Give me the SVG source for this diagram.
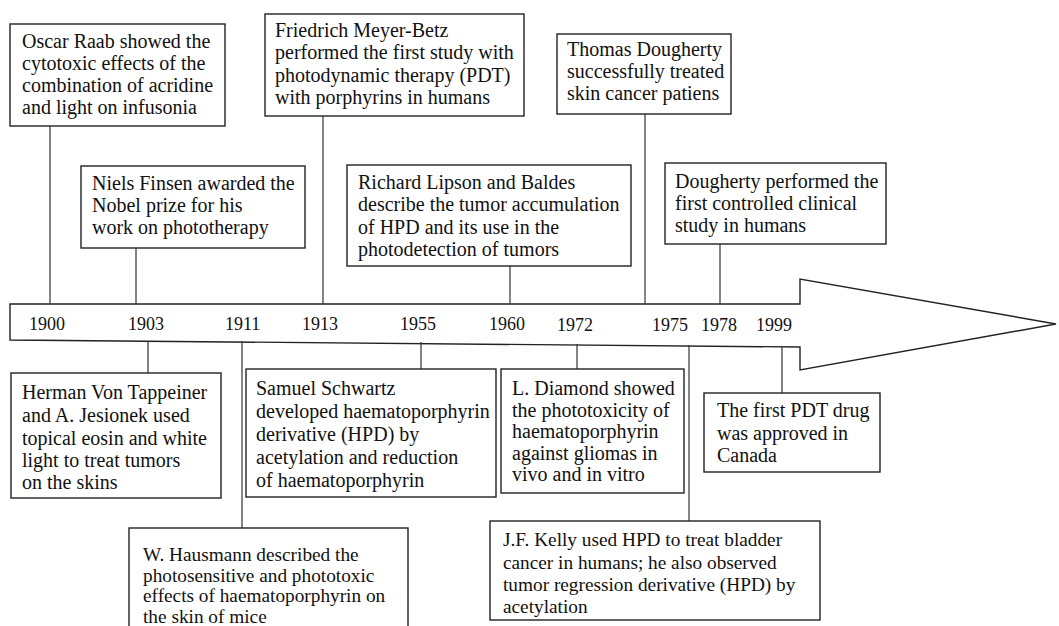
<svg xmlns="http://www.w3.org/2000/svg" width="1059" height="626" viewBox="0 0 1059 626">
<style>
.box{fill:#fff;stroke:#222;stroke-width:1.4}
.t{font-family:"Liberation Serif","Times New Roman",serif;font-size:20px;fill:#111}
.c{font-family:"Liberation Serif","Times New Roman",serif;font-size:19.3px;fill:#111}
.y{font-family:"Liberation Serif","Times New Roman",serif;font-size:18px;fill:#111}
.ln{stroke:#333;stroke-width:1.2;fill:none}
.arrow{fill:#fff;stroke:#222;stroke-width:1.4}
</style>
<rect width="1059" height="626" fill="#fff"/>
<g id="timeline">
<polygon class="arrow" points="10,304 800,304 800,279 1056,324 800,370 800,347 10,340"/>
<text class="y" x="29" y="330">1900</text>
<text class="y" x="128" y="330">1903</text>
<text class="y" x="225" y="330">1911</text>
<text class="y" x="302" y="330">1913</text>
<text class="y" x="400" y="330">1955</text>
<text class="y" x="489" y="330">1960</text>
<text class="y" x="557" y="331">1972</text>
<text class="y" x="652" y="331">1975</text>
<text class="y" x="701" y="331">1978</text>
<text class="y" x="756" y="331">1999</text>
</g>
<g id="connectors">
<line class="ln" x1="50" y1="126" x2="50" y2="304"/>
<line class="ln" x1="136" y1="248" x2="136" y2="304"/>
<line class="ln" x1="323" y1="116" x2="323" y2="304"/>
<line class="ln" x1="510" y1="266" x2="510" y2="304"/>
<line class="ln" x1="645" y1="114" x2="645" y2="304"/>
<line class="ln" x1="720" y1="244" x2="720" y2="304"/>
<line class="ln" x1="148" y1="341" x2="148" y2="373"/>
<line class="ln" x1="242" y1="341" x2="242" y2="528"/>
<line class="ln" x1="421" y1="342" x2="421" y2="369"/>
<line class="ln" x1="577" y1="344" x2="577" y2="369"/>
<line class="ln" x1="689" y1="345" x2="689" y2="521"/>
<line class="ln" x1="782" y1="346" x2="782" y2="393"/>
</g>
<g id="n1900">
<rect class="box" x="10" y="24" width="215" height="102"/>
<text class="t" x="22" y="48">Oscar Raab showed the</text>
<text class="t" x="22" y="70">cytotoxic effects of the</text>
<text class="t" x="22" y="92">combination of acridine</text>
<text class="t" x="22" y="114">and light on infusonia</text>
</g>
<g id="n1913">
<rect class="box" x="265" y="14" width="259" height="102"/>
<text class="t" x="275" y="37">Friedrich Meyer-Betz</text>
<text class="t" x="275" y="59">performed the first study with</text>
<text class="t" x="275" y="82">photodynamic therapy (PDT)</text>
<text class="t" x="275" y="104">with porphyrins in humans</text>
</g>
<g id="n1975">
<rect class="box" x="557" y="34" width="174" height="80"/>
<text class="t" x="567" y="56">Thomas Dougherty</text>
<text class="t" x="567" y="78">successfully treated</text>
<text class="t" x="567" y="100">skin cancer patiens</text>
</g>
<g id="n1903">
<rect class="box" x="81" y="166" width="224" height="82"/>
<text class="t" x="92" y="190">Niels Finsen awarded the</text>
<text class="t" x="92" y="212">Nobel prize for his</text>
<text class="t" x="92" y="234">work on phototherapy</text>
</g>
<g id="n1960">
<rect class="box" x="347" y="165" width="284" height="101"/>
<text class="t" x="358" y="189">Richard Lipson and Baldes</text>
<text class="t" x="358" y="211">describe the tumor accumulation</text>
<text class="t" x="358" y="234">of HPD and its use in the</text>
<text class="t" x="358" y="256">photodetection of tumors</text>
</g>
<g id="n1978">
<rect class="box" x="665" y="163" width="221" height="81"/>
<text class="t" x="675" y="188">Dougherty performed the</text>
<text class="t" x="675" y="210">first controlled clinical</text>
<text class="t" x="675" y="232">study in humans</text>
</g>
<g id="nTappeiner">
<rect class="box" x="11" y="373" width="210" height="125"/>
<text class="t" x="22" y="399">Herman Von Tappeiner</text>
<text class="t" x="22" y="422">and A. Jesionek used</text>
<text class="t" x="22" y="445">topical eosin and white</text>
<text class="t" x="22" y="467">light to treat tumors</text>
<text class="t" x="22" y="489">on the skins</text>
</g>
<g id="nSchwartz">
<rect class="box" x="246" y="369" width="250" height="128"/>
<text class="t" x="256" y="395">Samuel Schwartz</text>
<text class="t" x="256" y="418">developed haematoporphyrin</text>
<text class="t" x="256" y="441">derivative (HPD) by</text>
<text class="t" x="256" y="464">acetylation and reduction</text>
<text class="t" x="256" y="487">of haematoporphyrin</text>
</g>
<g id="nDiamond">
<rect class="box" x="501" y="369" width="183" height="124"/>
<text class="t" x="512" y="395">L. Diamond showed</text>
<text class="t" x="512" y="417">the phototoxicity of</text>
<text class="t" x="512" y="438">haematoporphyrin</text>
<text class="t" x="512" y="460">against gliomas in</text>
<text class="t" x="512" y="481">vivo and in vitro</text>
</g>
<g id="nCanada">
<rect class="box" x="704" y="393" width="176" height="79"/>
<text class="t" x="717" y="417">The first PDT drug</text>
<text class="t" x="717" y="440">was approved in</text>
<text class="t" x="717" y="462">Canada</text>
</g>
<g id="nHausmann">
<rect class="box" x="129" y="528" width="279" height="110"/>
<text class="c" x="143" y="561">W. Hausmann described the</text>
<text class="c" x="143" y="582">photosensitive and phototoxic</text>
<text class="c" x="143" y="602">effects of haematoporphyrin on</text>
<text class="c" x="143" y="623">the skin of mice</text>
</g>
<g id="nKelly">
<rect class="box" x="490" y="521" width="330" height="99"/>
<text class="c" x="503" y="546">J.F. Kelly used HPD to treat bladder</text>
<text class="c" x="503" y="569">cancer in humans; he also observed</text>
<text class="c" x="503" y="591">tumor regression derivative (HPD) by</text>
<text class="c" x="503" y="613">acetylation</text>
</g>
</svg>
